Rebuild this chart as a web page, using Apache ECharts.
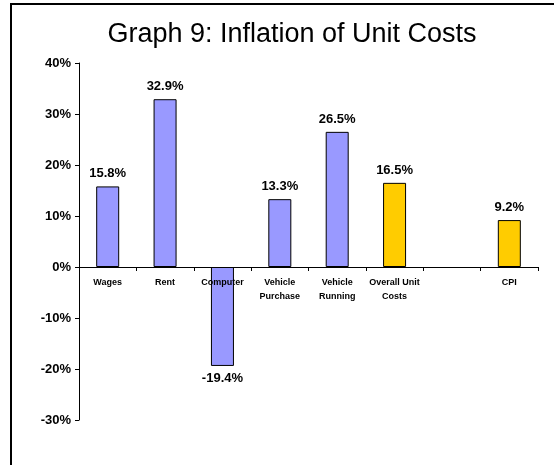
<!DOCTYPE html>
<html>
<head>
<meta charset="utf-8">
<script src="https://cdn.jsdelivr.net/npm/echarts@6/dist/echarts.min.js"></script>
<style>
  html, body { margin: 0; padding: 0; background: #fff; }
  #chart { width: 554px; height: 465px; }
</style>
</head>
<body>
<div id="chart"></div>
<script>
  // categories and values (percent)
  var categories = ['Wages', 'Rent', 'Computer', 'Vehicle\nPurchase', 'Vehicle\nRunning', 'Overall Unit\nCosts', '', 'CPI'];
  var values = [15.8, 32.9, -19.4, 13.3, 26.5, 16.5, null, 9.2];
  var barColors = ['#9999ff', '#9999ff', '#9999ff', '#9999ff', '#9999ff', '#ffcc00', '#ffcc00', '#ffcc00'];
  var yTicks = [-30, -20, -10, 0, 10, 20, 30, 40];

  var gridTop = 63, gridBottom = 45, chartH = 465;
  var yMin = yTicks[0], yMax = yTicks[yTicks.length - 1];
  // shift the category axis (and its labels) up to the zero line
  var zeroOffset = -(chartH - gridTop - gridBottom) * (0 - yMin) / (yMax - yMin);

  var myChart = echarts.init(document.getElementById('chart'));

  myChart.setOption({
    animation: false,
    backgroundColor: '#fff',
    title: {
      text: 'Graph 9: Inflation of Unit Costs',
      left: 287,
      textAlign: 'center',
      top: 16,
      textStyle: {
        fontFamily: 'Liberation Sans, Arial, sans-serif',
        fontSize: 27,
        fontWeight: 'normal',
        color: '#000'
      }
    },
    graphic: [{
      type: 'rect',
      shape: { x: 11, y: 4, width: 560, height: 480 },
      style: { fill: 'none', stroke: '#000', lineWidth: 2 },
      silent: true
    }],
    grid: { left: 79, right: 16, top: gridTop, bottom: gridBottom, containLabel: false },
    xAxis: {
      type: 'category',
      data: categories,
      offset: zeroOffset,
      z: 5,
      axisLine: { onZero: false, lineStyle: { color: '#000', width: 1 } },
      axisTick: { show: true, length: 4, lineStyle: { color: '#000' } },
      axisLabel: {
        interval: 0,
        margin: 9,
        fontFamily: 'Liberation Sans Narrow, Liberation Sans, Arial, sans-serif',
        fontSize: 9,
        fontWeight: 'bold',
        lineHeight: 14,
        color: '#000'
      }
    },
    yAxis: {
      type: 'value',
      min: yMin,
      max: yMax,
      interval: 10,
      splitLine: { show: false },
      axisLine: { show: true, lineStyle: { color: '#000', width: 1 } },
      axisTick: { show: true, length: 4, lineStyle: { color: '#000' } },
      axisLabel: {
        margin: 8,
        fontFamily: 'Liberation Sans Narrow, Liberation Sans, Arial, sans-serif',
        fontSize: 13,
        fontWeight: 'bold',
        color: '#000',
        formatter: '{value}%'
      }
    },
    series: [{
      type: 'bar',
      barWidth: 23,
      z: 2,
      data: values.map(function (v, i) {
        return {
          value: v,
          itemStyle: { color: barColors[i], borderColor: '#000', borderWidth: 1 },
          label: { position: v < 0 ? 'bottom' : 'top' }
        };
      }),
      label: {
        show: true,
        distance: 6,
        formatter: function (p) { return p.value == null ? '' : p.value.toFixed(1) + '%'; },
        fontFamily: 'Liberation Sans Narrow, Liberation Sans, Arial, sans-serif',
        fontSize: 13,
        fontWeight: 'bold',
        color: '#000'
      }
    }]
  });
</script>
</body>
</html>
